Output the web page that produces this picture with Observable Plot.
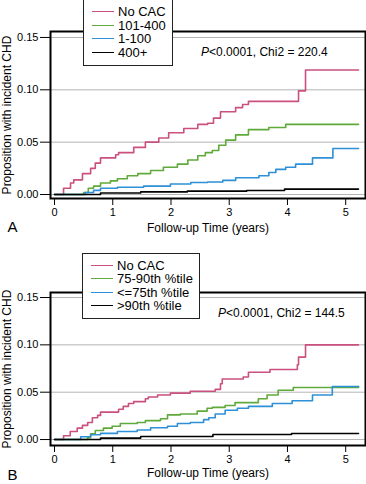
<!DOCTYPE html>
<html><head><meta charset="utf-8">
<script src="https://cdn.jsdelivr.net/npm/d3@7"></script>
<script src="https://cdn.jsdelivr.net/npm/@observablehq/plot@0.6"></script>
<style>
body{margin:0;background:#fff;font-family:"Liberation Sans",Arial,sans-serif;}
#wrap{position:relative;width:366px;height:484px;overflow:hidden;background:#fff}
.panel{position:absolute;left:0;width:366px}
.legend{position:absolute;background:#fff;border:1px solid #222;box-sizing:border-box;font-size:13px;color:#000}
.row{position:absolute;left:0;right:0;height:13px;line-height:13px;white-space:nowrap}
.sw{position:absolute;left:8px;top:6px;width:22px;height:0;border-top:1.6px solid}
.lab{position:absolute;left:34px;top:0;line-height:13px;height:13px}
.note{position:absolute;font-size:12px;white-space:nowrap;line-height:14px;color:#000}
</style></head>
<body><div id="wrap"></div>
<script>
const xTicks = [0, 1, 2, 3, 4, 5];
const yTicks = [0, 0.05, 0.10, 0.15];
const yLabel = "Proposition with incident CHD";
const xLabel = "Follow-up Time (years)";
const colors = ["#c9507f", "#5faa3a", "#2e90d6", "#000000"];
const legendA = ["No CAC", "101-400", "1-100", "400+"];
const legendB = ["No CAC", "75-90th %tile", "<=75th %tile", ">90th %tile"];
const noteA = ["P", "<0.0001, Chi2 = 220.4"];
const noteB = ["P", "<0.0001, Chi2 = 144.5"];

// Panel A series: [time (years), proportion]
const aNoCAC = [[0,0],[0.10,0],[0.155,0.006],[0.275,0.011],[0.33,0.014],[0.48,0.020],[0.62,0.025],[0.70,0.030],[0.79,0.035],[1.05,0.038],[1.10,0.040],[1.36,0.045],[1.56,0.050],[1.79,0.054],[1.96,0.059],[2.22,0.063],[2.46,0.067],[2.63,0.068],[2.73,0.073],[2.85,0.079],[3.11,0.083],[3.23,0.086],[3.33,0.089],[4.19,0.099],[4.31,0.119],[5.22,0.119]];
const a101 = [[0,0],[0.41,0],[0.50,0.002],[0.58,0.006],[0.67,0.008],[0.79,0.011],[0.96,0.013],[1.08,0.015],[1.25,0.018],[1.43,0.020],[1.65,0.023],[1.87,0.026],[2.11,0.029],[2.29,0.033],[2.46,0.037],[2.59,0.040],[2.71,0.042],[2.82,0.047],[2.94,0.052],[3.11,0.057],[3.33,0.062],[3.68,0.064],[3.97,0.067],[5.22,0.067]];
const a1 = [[0,0],[0.45,0],[0.53,0.002],[0.67,0.004],[0.79,0.006],[1.08,0.007],[1.53,0.008],[1.99,0.010],[2.34,0.0115],[2.63,0.012],[2.89,0.0135],[3.11,0.016],[3.51,0.018],[3.68,0.021],[3.80,0.024],[3.97,0.026],[4.14,0.029],[4.43,0.035],[4.78,0.044],[5.22,0.044]];
const a400 = [[0,0],[0.79,0.0015],[1.48,0.0025],[2.28,0.0032],[3.30,0.0038],[3.95,0.0052],[5.22,0.0052]];

// Panel B series
const bNoCAC = [[0,0],[0.10,0],[0.155,0.004],[0.27,0.0085],[0.39,0.012],[0.48,0.015],[0.57,0.018],[0.65,0.023],[0.74,0.0255],[0.79,0.029],[1.10,0.032],[1.18,0.035],[1.27,0.038],[1.36,0.040],[1.56,0.043],[1.61,0.045],[1.77,0.047],[1.99,0.049],[2.33,0.051],[2.76,0.053],[2.85,0.059],[2.88,0.064],[3.24,0.066],[3.33,0.071],[3.70,0.074],[4.17,0.079],[4.19,0.087],[4.31,0.100],[5.22,0.100]];
const b7590 = [[0,0],[0.45,0],[0.57,0.002],[0.62,0.006],[0.70,0.0095],[0.84,0.012],[0.99,0.014],[1.13,0.017],[1.42,0.018],[1.56,0.020],[1.82,0.022],[1.94,0.026],[2.16,0.027],[2.45,0.030],[2.62,0.033],[2.71,0.034],[2.93,0.036],[3.10,0.039],[3.50,0.043],[3.65,0.047],[3.84,0.052],[4.10,0.055],[5.22,0.056]];
const b75 = [[0,0],[0.27,0],[0.45,0.003],[0.62,0.005],[0.79,0.0065],[1.08,0.0085],[1.42,0.010],[1.65,0.0125],[1.94,0.014],[2.11,0.017],[2.33,0.018],[2.56,0.021],[2.65,0.023],[2.76,0.027],[2.93,0.031],[3.14,0.033],[3.33,0.035],[3.74,0.038],[4.08,0.041],[4.43,0.047],[4.77,0.056],[5.22,0.056]];
const b90 = [[0,0],[0.79,0.0015],[1.48,0.0032],[2.72,0.0053],[4.07,0.0064],[5.22,0.0064]];

const font = '"Liberation Sans", Arial, sans-serif';

function panel(series, cfg) {
  const lines = series.map((s, i) => Plot.line(s, {
    x: d => d[0], y: d => d[1], curve: "step-after",
    stroke: colors[i], strokeWidth: 1.6
  }));
  return Plot.plot({
    width: 366, height: 242,
    marginLeft: 50, marginRight: 1, marginTop: cfg.top, marginBottom: cfg.bottom,
    x: {domain: [-0.069, 5.34]},
    y: {domain: cfg.ydom},
    style: {fontFamily: font, fontSize: "11px", background: "#fff", color: "#000", overflow: "visible"},
    marks: [
      Plot.gridY(yTicks, {stroke: "#b4b4b4", strokeOpacity: 1, strokeWidth: 1}),
      Plot.axisX(xTicks, {tickSize: 7, tickPadding: 3, label: null, fontSize: 11}),
      Plot.axisY(yTicks, {tickSize: 10, tickPadding: 2, label: null, fontSize: 11, tickFormat: d3.format(".2f")}),
      ...lines,
      Plot.frame({stroke: "#000", strokeWidth: 2}),
      Plot.text([xLabel], {text: d => d, frameAnchor: "bottom", lineAnchor: "middle", textAnchor: "middle", dy: cfg.xlabDy, fontSize: 12}),
      Plot.text([cfg.letter], {text: d => d, frameAnchor: "bottom-left", lineAnchor: "middle", textAnchor: "middle", dx: -38, dy: cfg.letterDy, fontSize: 15}),
      Plot.text([yLabel], {text: d => d, frameAnchor: "left", lineAnchor: "middle", textAnchor: "middle", dx: -43, rotate: -90, fontSize: 12})
    ]
  });
}

const wrap = document.getElementById("wrap");

function addPanel(svg, top) {
  const d = document.createElement("div");
  d.className = "panel";
  d.style.top = top + "px";
  d.appendChild(svg);
  wrap.appendChild(d);
}

function addLegend(labels, left, top, width, height, rowTop, rowStep) {
  const lg = document.createElement("div");
  lg.className = "legend";
  Object.assign(lg.style, {left: left + "px", top: top + "px", width: width + "px", height: height + "px"});
  labels.forEach((lab, i) => {
    const r = document.createElement("div");
    r.className = "row";
    r.style.top = (rowTop + i * rowStep) + "px";
    const sw = document.createElement("div");
    sw.className = "sw";
    sw.style.borderTopColor = colors[i];
    const t = document.createElement("span");
    t.className = "lab";
    t.textContent = lab;
    r.appendChild(sw); r.appendChild(t);
    lg.appendChild(r);
  });
  wrap.appendChild(lg);
}

function addNote(parts, left, top) {
  const n = document.createElement("div");
  n.className = "note";
  n.style.left = left + "px";
  n.style.top = top + "px";
  const i = document.createElement("i");
  i.textContent = parts[0];
  n.appendChild(i);
  n.appendChild(document.createTextNode(parts[1]));
  wrap.appendChild(n);
}

addPanel(panel([aNoCAC, a101, a1, a400], {top: 31, bottom: 44, ydom: [-0.0038, 0.1557], letter: "A", xlabDy: 30, letterDy: 29}), 0);
addPanel(panel([bNoCAC, b7590, b75, b90], {top: 50, bottom: 39, ydom: [-0.0063, 0.1553], letter: "B", xlabDy: 28, letterDy: 30}), 242);

addLegend(legendA, 83, -1, 90, 67, 5, 13.6);
addLegend(legendB, 82, 253, 118, 66, 4.5, 13.6);
addNote(noteA, 201, 45);
addNote(noteB, 218, 306);
</script>
</body></html>
